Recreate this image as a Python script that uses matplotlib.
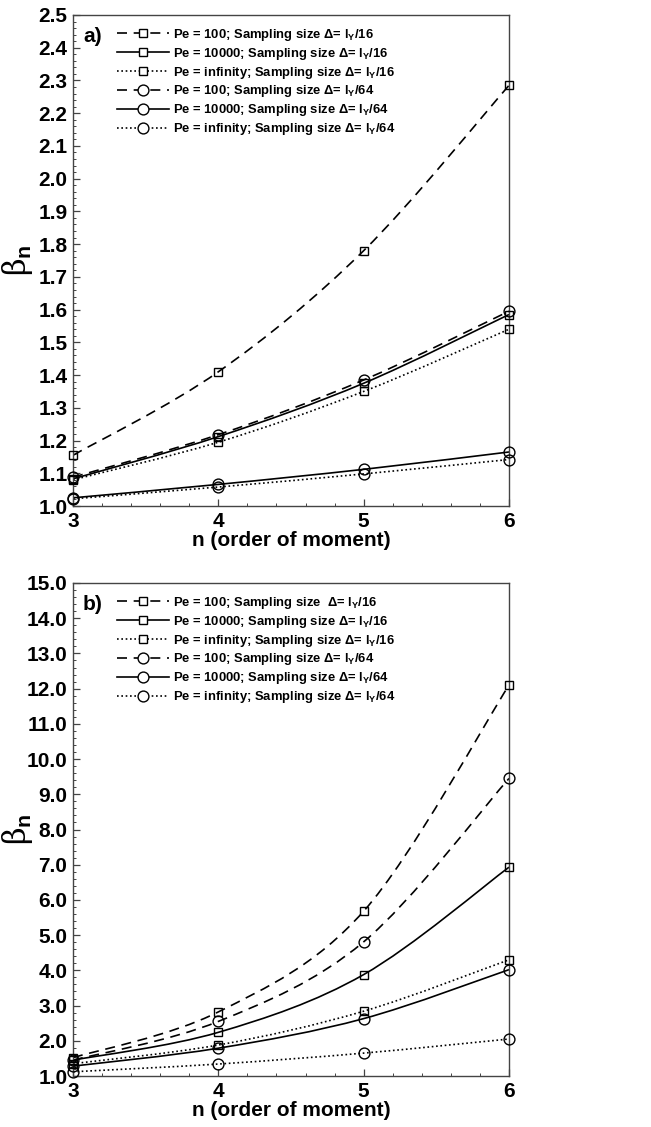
import matplotlib
matplotlib.use("Agg")
import matplotlib.pyplot as plt
from matplotlib import font_manager
from matplotlib.path import Path
from matplotlib.patches import PathPatch
from matplotlib.lines import Line2D
from matplotlib.ticker import MultipleLocator, FormatStrFormatter
import numpy as np

plt.rcParams['font.family'] = ['Liberation Sans', 'DejaVu Sans']
plt.rcParams['font.weight'] = 'bold'

installed = {f.name for f in font_manager.fontManager.ttflist}
if 'Liberation Sans Narrow' in installed:
    LEG_FONT, LEG_SIZE = 'Liberation Sans Narrow', 11.2
else:
    LEG_FONT, LEG_SIZE = 'Liberation Sans', 9.4
plt.rcParams['mathtext.fontset'] = 'custom'
plt.rcParams['mathtext.rm'] = f'{LEG_FONT}:bold'
plt.rcParams['mathtext.bf'] = f'{LEG_FONT}:bold'
plt.rcParams['mathtext.it'] = f'{LEG_FONT}:bold'

# order of moment
n = [3, 4, 5, 6]

# panel a) values
a_pe100_16 = [1.155, 1.41, 1.78, 2.285]
a_pe1e4_16 = [1.083, 1.212, 1.375, 1.585]
a_inf_16 = [1.080, 1.195, 1.350, 1.540]
a_pe100_64 = [1.088, 1.218, 1.385, 1.595]
a_pe1e4_64 = [1.025, 1.066, 1.112, 1.165]
a_inf_64 = [1.022, 1.058, 1.098, 1.142]

# panel b) values
b_pe100_16 = [1.52, 2.82, 5.68, 12.1]
b_pe1e4_16 = [1.45, 2.24, 3.88, 6.93]
b_inf_16 = [1.35, 1.88, 2.84, 4.30]
b_pe100_64 = [1.45, 2.55, 4.81, 9.45]
b_pe1e4_64 = [1.28, 1.79, 2.63, 4.02]
b_inf_64 = [1.12, 1.34, 1.65, 2.05]

labels_a = [
    r'Pe = 100; Sampling size Δ= l$_{Y}$/16',
    r'Pe = 10000; Sampling size Δ= l$_{Y}$/16',
    r'Pe = infinity; Sampling size Δ= l$_{Y}$/16',
    r'Pe = 100; Sampling size Δ= l$_{Y}$/64',
    r'Pe = 10000; Sampling size Δ= l$_{Y}$/64',
    r'Pe = infinity; Sampling size Δ= l$_{Y}$/64',
]
labels_b = [
    r'Pe = 100; Sampling size  Δ= l$_{Y}$/16',
    r'Pe = 10000; Sampling size Δ= l$_{Y}$/16',
    r'Pe = infinity; Sampling size Δ= l$_{Y}$/16',
    r'Pe = 100; Sampling size Δ= l$_{Y}$/64',
    r'Pe = 10000; Sampling size Δ= l$_{Y}$/64',
    r'Pe = infinity; Sampling size Δ= l$_{Y}$/64',
]

DASHED = (0, (6.0, 4.0))
DOTTED = (0, (1.0, 1.6))
SOLID = '-'
styles = [(DASHED, 's'), (SOLID, 's'), (DOTTED, 's'),
          (DASHED, 'o'), (SOLID, 'o'), (DOTTED, 'o')]
LW = 1.2
SPINE = '#444444'


def smooth_path(x, y):
    """Catmull-Rom curve through the points, as cubic Bezier segments."""
    x = np.asarray(x, float)
    y = np.asarray(y, float)
    px = np.concatenate([[x[0]], x, [x[-1]]])
    py = np.concatenate([[y[0]], y, [y[-1]]])
    verts = [(x[0], y[0])]
    codes = [Path.MOVETO]
    for i in range(1, len(x)):
        c1 = (px[i] + (px[i + 1] - px[i - 1]) / 6, py[i] + (py[i + 1] - py[i - 1]) / 6)
        c2 = (px[i + 1] - (px[i + 2] - px[i]) / 6, py[i + 1] - (py[i + 2] - py[i]) / 6)
        verts += [c1, c2, (px[i + 1], py[i + 1])]
        codes += [Path.CURVE4] * 3
    return Path(verts, codes)


def draw_panel(ax, series, labels, ymax, ymajor, yminor, fmt, tag):
    handles = []
    for vals, (ls, mk), lab in zip(series, styles, labels):
        patch = PathPatch(smooth_path(n, vals), facecolor='none', edgecolor='black',
                          lw=LW, linestyle=ls, transform=ax.transData, zorder=2,
                          capstyle='butt')
        ax.add_patch(patch)
        ms = 6.0 if mk == 's' else 7.8
        ax.plot(n, vals, linestyle='none', marker=mk, ms=ms, mfc='none',
                mec='black', mew=1.0, zorder=3, clip_on=False)
        handles.append(Line2D([], [], color='black', lw=LW, linestyle=ls, marker=mk,
                              ms=ms, mfc='white', mec='black', mew=1.0))
    ax.set_xlim(3, 6)
    ax.set_ylim(1.0, ymax)
    ax.xaxis.set_major_locator(MultipleLocator(1))
    ax.xaxis.set_minor_locator(MultipleLocator(0.2))
    ax.yaxis.set_major_locator(MultipleLocator(ymajor))
    ax.yaxis.set_minor_locator(MultipleLocator(yminor))
    ax.yaxis.set_major_formatter(FormatStrFormatter(fmt))
    ax.tick_params(which='both', direction='in', top=False, right=False,
                   colors=SPINE, labelcolor='black', labelsize=15)
    ax.tick_params(which='major', length=5, width=0.9, pad=4)
    ax.tick_params(which='minor', length=2.5, width=0.7)
    for s in ax.spines.values():
        s.set_color(SPINE)
        s.set_linewidth(1.0)
    ax.set_xlabel('n (order of moment)', fontsize=15, fontweight='bold', labelpad=0)
    ax.set_ylabel(r'$\mathregular{\beta}_{\mathbf{n}}$', fontsize=22, fontweight='normal',
                  family=['DejaVu Serif'])
    ax.yaxis.set_label_coords(-0.088, 0.5)
    ax.text(0.023, 0.976, tag, transform=ax.transAxes, fontsize=15,
            fontweight='bold', va='top', ha='left')
    ax.legend(handles, labels, loc='upper left', bbox_to_anchor=(0.1, 0.976),
              frameon=False, borderpad=0, borderaxespad=0, numpoints=1,
              handlelength=4.0, handletextpad=0.3, labelspacing=0.22,
              prop={'family': LEG_FONT, 'size': LEG_SIZE, 'weight': 'bold'})


fig = plt.figure(figsize=(6.51, 11.27), dpi=100)
ax_a = fig.add_axes([73 / 651, 1 - 506 / 1127, 436 / 651, 491 / 1127])
ax_b = fig.add_axes([73 / 651, 1 - 1076 / 1127, 436 / 651, 493 / 1127])

draw_panel(ax_a, [a_pe100_16, a_pe1e4_16, a_inf_16, a_pe100_64, a_pe1e4_64, a_inf_64],
           labels_a, 2.5, 0.1, 0.02, '%.1f', 'a)')
draw_panel(ax_b, [b_pe100_16, b_pe1e4_16, b_inf_16, b_pe100_64, b_pe1e4_64, b_inf_64],
           labels_b, 15.0, 1.0, 0.2, '%.1f', 'b)')

fig.savefig('out.png', dpi=100)
